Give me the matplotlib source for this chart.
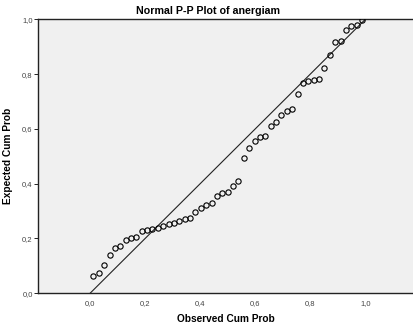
import matplotlib
matplotlib.use('Agg')
import matplotlib.pyplot as plt
import numpy as np

plt.rcParams['font.family'] = ['Liberation Sans', 'DejaVu Sans']

# Observed cumulative probability (Blom ranks, n = 51)
n_points = 51
observed = [(r - 0.375) / (n_points + 0.25) for r in range(1, n_points + 1)]
# Expected cumulative probability
expected = [0.064, 0.074, 0.103, 0.140, 0.167, 0.174, 0.196, 0.203, 0.206, 0.226,
            0.231, 0.236, 0.238, 0.245, 0.253, 0.256, 0.265, 0.271, 0.276, 0.298,
            0.312, 0.322, 0.331, 0.356, 0.367, 0.369, 0.391, 0.411, 0.495, 0.531,
            0.556, 0.570, 0.574, 0.610, 0.625, 0.651, 0.666, 0.673, 0.727, 0.766,
            0.773, 0.777, 0.783, 0.822, 0.870, 0.917, 0.920, 0.961, 0.977, 0.981,
            0.999]
ref_line = [0.0, 1.0]
ticks = [0.0, 0.2, 0.4, 0.6, 0.8, 1.0]
tick_labels = ['0,0', '0,2', '0,4', '0,6', '0,8', '1,0']

fig = plt.figure(figsize=(4.13, 3.31), dpi=100)
ax = fig.add_axes([0.0927, 0.1139, 0.9073, 0.8278])
ax.set_facecolor('#f0f0f0')

ax.plot(ref_line, ref_line, color='#222222', linewidth=0.8, zorder=2)
ax.plot(observed, expected, linestyle='none', marker='o', markersize=3.8,
        markerfacecolor='none', markeredgecolor='black', markeredgewidth=0.8, zorder=3)

ax.set_xlim(-0.188, 1.173)
ax.set_ylim(0, 1)
ax.set_xticks(ticks)
ax.set_xticklabels(tick_labels)
ax.set_yticks(ticks)
ax.set_yticklabels(tick_labels)
ax.tick_params(axis='x', length=0, pad=5, labelsize=5.5, labelcolor='#444444')
ax.tick_params(axis='y', length=3, width=0.6, pad=1, labelsize=5.5, labelcolor='#444444')

for side in ['left', 'bottom', 'top']:
    ax.spines[side].set_linewidth(1.0)
    ax.spines[side].set_color('#222222')
ax.spines['right'].set_visible(False)

ax.set_xlabel('Observed Cum Prob', fontsize=7.3, fontweight='bold', labelpad=5)
ax.set_ylabel('Expected Cum Prob', fontsize=7.3, fontweight='bold')
ax.yaxis.set_label_coords(-0.068, 0.5)
fig.text(0.503, 0.968, 'Normal P-P Plot of anergiam', ha='center', va='center',
         fontsize=7.7, fontweight='bold')

fig.savefig('out.png', dpi=100)
